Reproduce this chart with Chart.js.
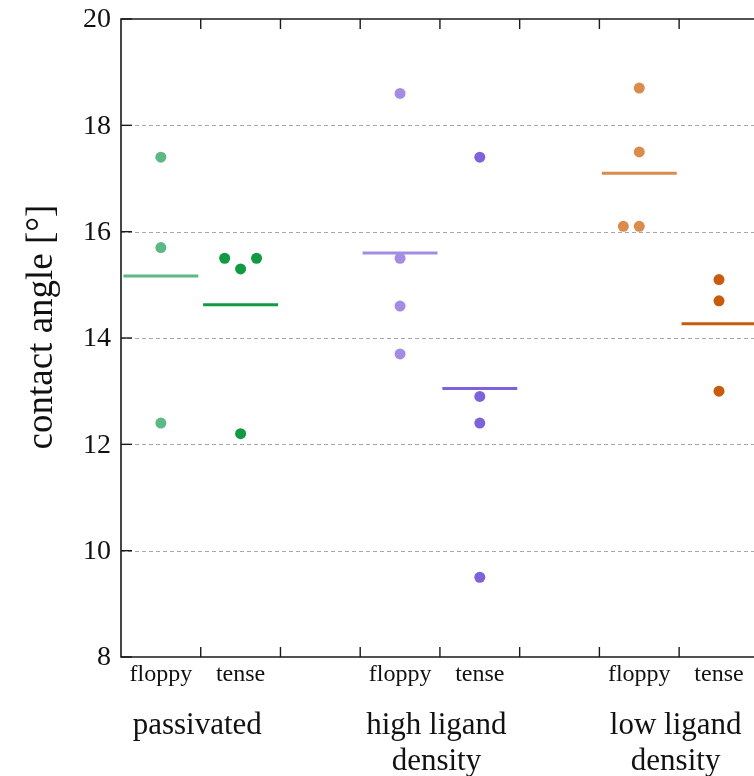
<!DOCTYPE html>
<html>
<head>
<meta charset="utf-8">
<script src="https://cdn.jsdelivr.net/npm/chart.js@4"></script>
<style>
  html, body { margin: 0; padding: 0; background: #fff; overflow: hidden; }
  #wrap { width: 754px; height: 776px; position: relative; }
</style>
</head>
<body>
<div id="wrap"><canvas id="c" width="754" height="776"></canvas></div>
<script>
// Surface groups and membrane states
const groups = ['passivated', ['high ligand', 'density'], ['low ligand', 'density']];
const states = ['floppy', 'tense'];

// Contact angle measurements [°]
const passivatedFloppy = [17.4, 15.7, 12.4];
const passivatedTense  = [15.5, 15.3, 15.5, 12.2];
const highFloppy       = [18.6, 15.5, 14.6, 13.7];
const highTense        = [17.4, 12.9, 12.4, 9.5];
const lowFloppy        = [18.7, 17.5, 16.1, 16.1];
const lowTense         = [15.1, 14.7, 13.0];

// Side-by-side offsets for repeated values (in category units)
const passivatedTenseSpread = [-0.2, 0, 0.2, 0];
const lowFloppySpread       = [0, 0, -0.2, 0];

const yTicks = [8, 10, 12, 14, 16, 18, 20];

const series = [
  { values: passivatedFloppy, pos: 0.5, color: '#5cb884' },
  { values: passivatedTense,  pos: 1.5, color: '#129a42', spread: passivatedTenseSpread },
  { values: highFloppy,       pos: 3.5, color: '#a28de2' },
  { values: highTense,        pos: 4.5, color: '#7e62dc' },
  { values: lowFloppy,        pos: 6.5, color: '#d98c4c', spread: lowFloppySpread },
  { values: lowTense,         pos: 7.5, color: '#c85c0c' }
];

const mean = a => a.reduce((s, v) => s + v, 0) / a.length;
const HALF = 0.47;

const datasets = [];
series.forEach(s => {
  datasets.push({
    type: 'line',
    data: [{ x: s.pos - HALF, y: mean(s.values) }, { x: s.pos + HALF, y: mean(s.values) }],
    borderColor: s.color,
    borderWidth: 3,
    pointRadius: 0,
    fill: false,
    clip: false,
    order: 2
  });
  datasets.push({
    type: 'scatter',
    data: s.values.map((v, i) => ({ x: s.pos + (s.spread ? s.spread[i] : 0), y: v })),
    backgroundColor: s.color,
    borderColor: s.color,
    borderWidth: 0,
    pointRadius: 5.5,
    pointHoverRadius: 5.5,
    clip: false,
    order: 1
  });
});

const SERIF = '"Liberation Serif", "Times New Roman", serif';

// Frame, inward ticks, dashed grid and all axis texts
const frame = {
  id: 'frame',
  beforeDatasetsDraw(chart) {
    const { ctx, chartArea: a, scales: { y } } = chart;
    ctx.save();
    ctx.strokeStyle = '#a8a8a8';
    ctx.lineWidth = 1;
    ctx.setLineDash([4, 3]);
    yTicks.forEach(t => {
      if (t === y.min || t === y.max) return;
      const py = Math.round(y.getPixelForValue(t)) + 0.5;
      ctx.beginPath();
      ctx.moveTo(a.left, py);
      ctx.lineTo(chart.width, py);
      ctx.stroke();
    });
    ctx.restore();
  },
  afterDatasetsDraw(chart) {
    const { ctx, chartArea: a, scales: { x, y } } = chart;
    ctx.save();
    ctx.strokeStyle = '#1a1a1a';
    ctx.lineWidth = 1.6;
    ctx.setLineDash([]);
    ctx.beginPath();
    ctx.moveTo(chart.width, a.top);
    ctx.lineTo(a.left, a.top);
    ctx.lineTo(a.left, a.bottom);
    ctx.lineTo(chart.width, a.bottom);
    ctx.stroke();

    // inward tick marks
    ctx.lineWidth = 1.4;
    for (let k = 1; k <= 7; k++) {
      const px = x.getPixelForValue(k);
      ctx.beginPath();
      ctx.moveTo(px, a.bottom); ctx.lineTo(px, a.bottom - 10);
      ctx.moveTo(px, a.top);    ctx.lineTo(px, a.top + 10);
      ctx.stroke();
    }
    yTicks.forEach(t => {
      const py = y.getPixelForValue(t);
      ctx.beginPath();
      ctx.moveTo(a.left, py); ctx.lineTo(a.left + 11, py);
      ctx.stroke();
    });

    // y tick labels
    ctx.fillStyle = '#111';
    ctx.font = '28px ' + SERIF;
    ctx.textAlign = 'right';
    ctx.textBaseline = 'middle';
    yTicks.forEach(t => {
      ctx.fillText(String(t), a.left - 10, y.getPixelForValue(t) + 1);
    });

    // state labels under each column
    ctx.font = '24px ' + SERIF;
    ctx.textAlign = 'center';
    ctx.textBaseline = 'alphabetic';
    series.forEach((s, i) => {
      ctx.fillText(states[i % 2], x.getPixelForValue(s.pos), a.bottom + 24);
    });

    // group labels
    ctx.font = '31px ' + SERIF;
    groups.forEach((g, i) => {
      const cx = x.getPixelForValue(1 + 3 * i) - 3.5;
      const lines = Array.isArray(g) ? g : [g];
      lines.forEach((ln, j) => {
        ctx.fillText(ln, cx, a.bottom + 77 + j * 36);
      });
    });

    // y axis title
    ctx.font = '37px ' + SERIF;
    ctx.translate(42, 327);
    ctx.rotate(-Math.PI / 2);
    ctx.textAlign = 'center';
    ctx.textBaseline = 'middle';
    ctx.fillText('contact angle [°]', 0, 0);
    ctx.restore();
  }
};

new Chart(document.getElementById('c'), {
  type: 'scatter',
  data: { datasets },
  options: {
    responsive: false,
    animation: false,
    events: [],
    layout: { padding: { left: 121, top: 19, right: 0, bottom: 119 } },
    plugins: { legend: { display: false }, tooltip: { enabled: false } },
    scales: {
      x: { type: 'linear', min: 0, max: 7.87, display: false },
      y: { type: 'linear', min: 8, max: 20, display: false }
    }
  },
  plugins: [frame]
});
</script>
</body>
</html>
